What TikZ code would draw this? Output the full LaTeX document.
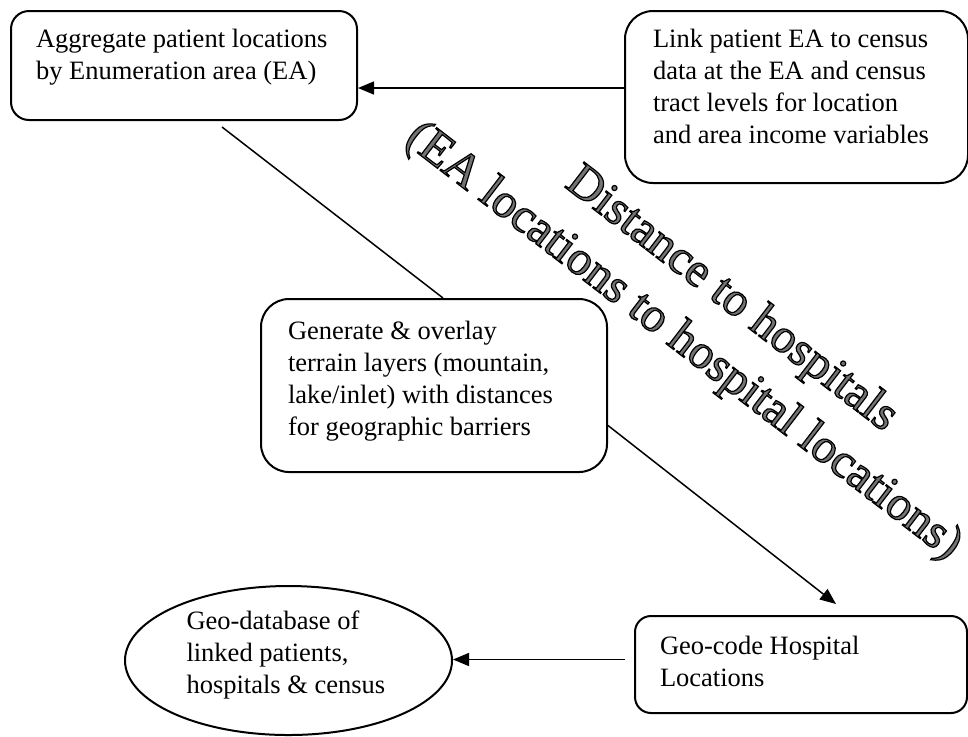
\documentclass[tikz,border=0pt]{standalone}
\usepackage{fontspec}
\setmainfont{Liberation Serif}
\usetikzlibrary{arrows.meta,shapes.geometric}
\newcommand\hollow[1]{\special{pdf:literal direct 2 Tr 0.6 w 0 G}#1\special{pdf:literal direct 0 Tr}}
\tikzset{
  stepbox/.style={draw, line width=1pt, anchor=north west, align=flush left,
    inner ysep=0pt, font=\fontsize{13.25}{16}\selectfont},
  link/.style={line width=0.75pt},
  arrow/.style={link, -{Triangle[length=8pt,width=6.5pt]}},
  slanted/.style={rotate=-37.5, text=black!55, inner sep=0pt,
    font=\fontsize{24.25}{29}\selectfont}
}
\begin{document}
\begin{tikzpicture}[x=0.5pt,y=-0.5pt]
  \useasboundingbox (0,0) rectangle (968,736);
  % process boxes
  \node[stepbox, rounded corners=9pt, inner xsep=12.5pt, text width=148pt,
    text height=18pt, text depth=36.5pt] (agg) at (10,10)
    {Aggregate patient locations\\by Enumeration area (EA)};
  \node[stepbox, rounded corners=14pt, inner xsep=14pt, text width=143.5pt,
    text height=18pt, text depth=68pt] (lnk) at (624,10)
    {Link patient EA to census\\data at the EA and census\\tract levels for location\\and area income variables};
  \node[stepbox, rounded corners=14pt, inner xsep=13.5pt, text width=146pt,
    text height=20pt, text depth=66.5pt] (gen) at (260,298)
    {Generate \& overlay\\terrain layers (mountain,\\lake/inlet) with distances\\for geographic barriers};
  \node[stepbox, rounded corners=8pt, inner xsep=12.5pt, text width=141pt,
    text height=19pt, text depth=29.5pt] (geo) at (634,615)
    {Geo-code Hospital\\Locations};
  \node[draw, ellipse, line width=1pt, inner sep=0pt, minimum width=163.5pt,
    minimum height=74.5pt, text width=102pt, align=flush left, text height=10pt,
    text depth=41.5pt, font=\fontsize{13.25}{16}\selectfont] (db) at (288.5,660.5)
    {Geo-database of\\linked patients,\\hospitals \& census};
  % diagonal caption
  \node[slanted] (dist) at (731,300) {\hollow{Distance to hospitals}};
  \node[slanted] (dloc) at (683,342) {\hollow{(EA locations to hospital locations)}};
  % connectors
  \coordinate (la) at ([yshift=4.5pt]lnk.west);
  \draw[arrow] (la) -- (la -| agg.east);
  \draw[link] ([xshift=19pt,yshift=-3pt]agg.south) -- ([xshift=4.5pt]gen.north);
  \draw[arrow] ([yshift=-20pt]gen.east) -- ([xshift=17.5pt,yshift=5.5pt]geo.north);
  \coordinate (gd) at ([xshift=-4.5pt,yshift=2.5pt]geo.west);
  \draw[arrow] (gd) -- (gd -| db.east);
\end{tikzpicture}
\end{document}
